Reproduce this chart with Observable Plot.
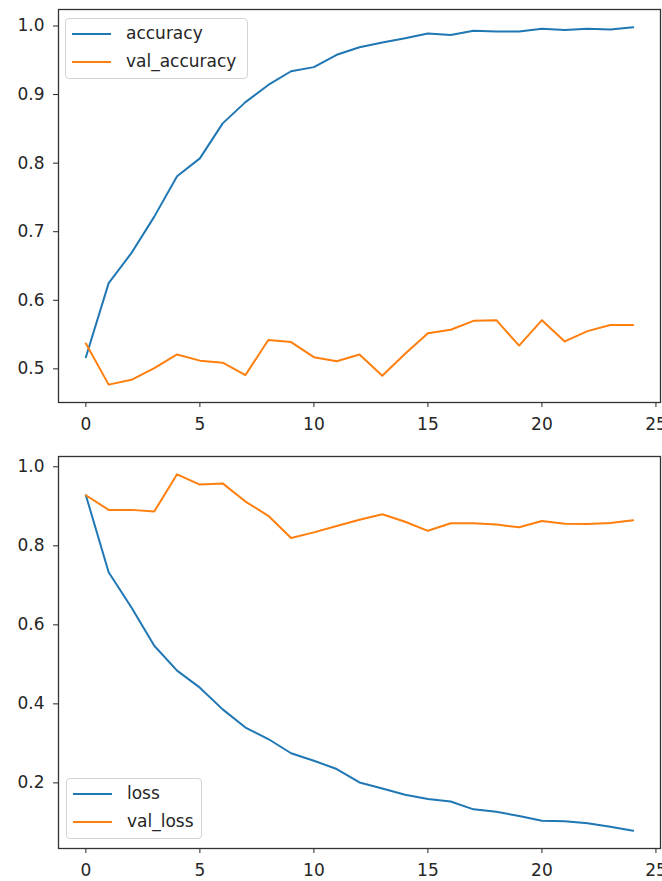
<!DOCTYPE html>
<html>
<head>
<meta charset="utf-8">
<script src="https://cdn.jsdelivr.net/npm/d3@7"></script>
<script src="https://cdn.jsdelivr.net/npm/@observablehq/plot@0.6"></script>
<style>
  html, body { margin: 0; padding: 0; background: #fff; }
  body { width: 662px; height: 881px; position: relative; overflow: hidden; font-family: "DejaVu Sans", sans-serif; }
  .panel { position: absolute; left: 0; }
  .legend { position: absolute; background: rgba(255,255,255,0.85); border: 1px solid #d4d4d4; border-radius: 4px; box-sizing: border-box; font: 17px "DejaVu Sans", sans-serif; color: #262626; }
  .legend .row { position: absolute; left: 0; height: 0; }
  .legend .sw { position: absolute; left: 6px; width: 39px; height: 2px; top: -1px; }
  .legend .lb { position: absolute; left: 60px; top: -11px; white-space: nowrap; line-height: 20px; }
</style>
</head>
<body>
<div id="top" class="panel" style="top:0px"></div>
<div id="bottom" class="panel" style="top:440px"></div>
<script>
const epochs = [0,1,2,3,4,5,6,7,8,9,10,11,12,13,14,15,16,17,18,19,20,21,22,23,24];
const accuracy = [0.517,0.625,0.669,0.722,0.781,0.807,0.858,0.889,0.914,0.934,0.940,0.958,0.969,0.976,0.982,0.989,0.987,0.993,0.992,0.992,0.996,0.994,0.996,0.995,0.998];
const valAccuracy = [0.537,0.477,0.484,0.501,0.521,0.512,0.509,0.491,0.542,0.539,0.517,0.511,0.521,0.490,0.522,0.552,0.557,0.570,0.571,0.534,0.571,0.540,0.555,0.564,0.564];
const loss = [0.928,0.733,0.644,0.547,0.484,0.441,0.386,0.340,0.311,0.275,0.256,0.235,0.201,0.186,0.170,0.159,0.153,0.133,0.127,0.116,0.104,0.103,0.098,0.089,0.079];
const valLoss = [0.928,0.891,0.891,0.887,0.981,0.955,0.958,0.912,0.876,0.820,0.834,0.850,0.866,0.880,0.861,0.838,0.857,0.857,0.854,0.847,0.863,0.856,0.855,0.858,0.865];
const xTicks = [0,5,10,15,20,25];
const accTicks = [0.5,0.6,0.7,0.8,0.9,1.0];
const lossTicks = [0.2,0.4,0.6,0.8,1.0];
const seriesNames = { top: ["accuracy","val_accuracy"], bottom: ["loss","val_loss"] };
const colors = ["#1f77b4", "#ff7f0e"];

function padded(values) {
  const [lo, hi] = d3.extent(values);
  const m = (hi - lo) * 0.05;
  return [lo - m, hi + m];
}

function rows(vals) { return epochs.map((e, i) => ({epoch: e, value: vals[i]})); }

function panel(seriesA, seriesB, yTicks, height, mt, mb) {
  return Plot.plot({
    width: 662,
    height,
    marginLeft: 58,
    marginRight: 2,
    marginTop: mt,
    marginBottom: mb,
    style: { fontFamily: "DejaVu Sans, sans-serif", fontSize: "17px", color: "#262626", background: "transparent", overflow: "visible" },
    x: { domain: padded(epochs), ticks: xTicks, tickFormat: d3.format("d"), tickSize: 5, tickPadding: 10, label: null },
    y: { domain: padded(seriesA.concat(seriesB)), ticks: yTicks, tickFormat: d3.format(".1f"), tickSize: 5, tickPadding: 9, label: null },
    marks: [
      Plot.line(rows(seriesA), {x: "epoch", y: "value", stroke: colors[0], strokeWidth: 2}),
      Plot.line(rows(seriesB), {x: "epoch", y: "value", stroke: colors[1], strokeWidth: 2}),
      Plot.frame({stroke: "#333", strokeWidth: 1.3})
    ]
  });
}

function legend(names, left, top, width, height) {
  const box = document.createElement("div");
  box.className = "legend";
  Object.assign(box.style, {left: left + "px", top: top + "px", width: width + "px", height: height + "px"});
  names.forEach((n, i) => {
    const row = document.createElement("div");
    row.className = "row";
    row.style.top = (15 + 28 * i) + "px";
    const sw = document.createElement("div");
    sw.className = "sw";
    sw.style.background = colors[i];
    const lb = document.createElement("div");
    lb.className = "lb";
    lb.textContent = n;
    row.appendChild(sw); row.appendChild(lb);
    box.appendChild(row);
  });
  document.body.appendChild(box);
}

document.getElementById("top").appendChild(panel(accuracy, valAccuracy, accTicks, 440, 9, 38));
document.getElementById("bottom").appendChild(panel(loss, valLoss, lossTicks, 441, 16, 33));
legend(seriesNames.top, 65, 18, 183, 61);
legend(seriesNames.bottom, 66, 778, 136, 61);
</script>
</body>
</html>
